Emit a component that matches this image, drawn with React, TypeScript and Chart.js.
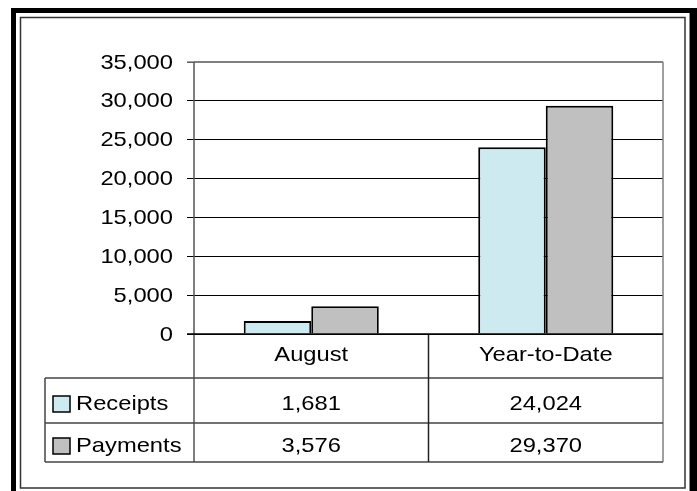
import React, { useEffect, useRef } from 'react';
import { Chart, registerables } from 'chart.js';

Chart.register(...registerables);

const categories = ['August', 'Year-to-Date'];
const seriesNames = ['Receipts', 'Payments'];
const receipts = [1681, 24024];
const payments = [3576, 29370];
const seriesColors = ['#CCEAF0', '#C0C0C0'];
const yMin = 0;
const yMax = 35000;
const yStep = 5000;

const FONT = '21px "Liberation Sans", Arial, sans-serif';
const SX = 1.13;

function fmt(v: number) {
  return v.toLocaleString('en-US');
}

function drawText(ctx: CanvasRenderingContext2D, text: string, x: number, y: number, align: CanvasTextAlign) {
  ctx.save();
  ctx.font = FONT;
  ctx.fillStyle = '#000';
  ctx.textAlign = align;
  ctx.textBaseline = 'alphabetic';
  ctx.translate(x, y);
  ctx.scale(SX, 1);
  ctx.fillText(text, 0, 0);
  ctx.restore();
}

function line(ctx: CanvasRenderingContext2D, x1: number, y1: number, x2: number, y2: number, color: string, w: number) {
  ctx.save();
  ctx.strokeStyle = color;
  ctx.lineWidth = w;
  ctx.beginPath();
  ctx.moveTo(x1, y1);
  ctx.lineTo(x2, y2);
  ctx.stroke();
  ctx.restore();
}

const framePlugin = {
  id: 'frameAndTable',
  beforeDraw(chart: any) {
    const ctx: CanvasRenderingContext2D = chart.ctx;
    const W = chart.width;
    const H = chart.height;
    ctx.save();
    ctx.fillStyle = '#fff';
    ctx.fillRect(0, 0, W, H);
    // outer thick black frame
    ctx.fillStyle = '#000';
    ctx.fillRect(11, 8, W - 11, 5);
    ctx.fillRect(11, 8, 5, H - 8);
    ctx.fillRect(690, 8, W - 690, H - 8);
    ctx.fillStyle = '#888';
    ctx.fillRect(689, 13, 1, H - 13);
    // inner thin frame
    ctx.strokeStyle = '#333';
    ctx.lineWidth = 1.5;
    ctx.strokeRect(20.5, 17.5, 664.5, 470.5);
    ctx.restore();
  },
  afterDraw(chart: any) {
    const ctx: CanvasRenderingContext2D = chart.ctx;
    const { left, right, top, bottom } = chart.chartArea;
    const xs = chart.scales.x;
    const ys = chart.scales.y;
    const mid = (xs.getPixelForValue(0) + xs.getPixelForValue(1)) / 2;
    const r1 = bottom + 44;
    const r2 = bottom + 89;
    const r3 = bottom + 128;
    const tLeft = 45;
    const tableColor = '#444';

    // y tick labels
    ys.ticks.forEach((t: any) => {
      const y = ys.getPixelForValue(t.value);
      drawText(ctx, fmt(t.value), 173, y + 6.5, 'right');
    });

    // plot border top / right
    line(ctx, left, top, right, top, '#808080', 2);
    line(ctx, left - 7, top, left, top, '#808080', 1.5);
    line(ctx, right, top, right, r3, '#808080', 1.5);

    // axis line extending through the table
    line(ctx, left, top, left, r3, '#555', 1.5);

    // table lines
    line(ctx, tLeft, r1, right, r1, tableColor, 1.5);
    line(ctx, tLeft, r2, right, r2, tableColor, 1.5);
    line(ctx, tLeft, r3, right, r3, tableColor, 1.5);
    line(ctx, tLeft, r1, tLeft, r3, tableColor, 1.5);
    line(ctx, mid, bottom, mid, r3, '#222', 1.5);
    // zero line redraw
    line(ctx, left - 7, bottom, right, bottom, '#000', 1.5);

    // category labels
    categories.forEach((c, i) => {
      drawText(ctx, c, xs.getPixelForValue(i), bottom + 27, 'center');
    });

    const rows = [receipts, payments];
    const baselines = [r1 + 32, r2 + 29];
    rows.forEach((vals, ri) => {
      const by = baselines[ri];
      ctx.save();
      ctx.fillStyle = seriesColors[ri];
      ctx.fillRect(53, by - 14, 17, 16);
      ctx.strokeStyle = '#000';
      ctx.lineWidth = 1.5;
      ctx.strokeRect(53, by - 14, 17, 16);
      ctx.restore();
      drawText(ctx, seriesNames[ri], 76, by, 'left');
      vals.forEach((v, ci) => {
        drawText(ctx, fmt(v), xs.getPixelForValue(ci), by, 'center');
      });
    });
  },
};

export default function App() {
  const ref = useRef<HTMLCanvasElement | null>(null);
  useEffect(() => {
    if (!ref.current) return;
    const chart = new Chart(ref.current, {
      type: 'bar',
      data: {
        labels: categories,
        datasets: [
          {
            label: seriesNames[0],
            data: receipts,
            backgroundColor: seriesColors[0],
            borderColor: '#000',
            borderWidth: 2,
          },
          {
            label: seriesNames[1],
            data: payments,
            backgroundColor: seriesColors[1],
            borderColor: '#000',
            borderWidth: 2,
          },
        ],
      },
      options: {
        responsive: false,
        animation: false,
        devicePixelRatio: 1,
        layout: { padding: { left: 187, right: 34, top: 62, bottom: 157 } },
        datasets: { bar: { categoryPercentage: 0.576, barPercentage: 1 } },
        plugins: {
          legend: { display: false },
          title: { display: false },
          tooltip: { enabled: false },
        },
        scales: {
          x: { display: false },
          y: {
            min: yMin,
            max: yMax,
            ticks: { stepSize: yStep, display: false },
            border: { display: false },
            grid: {
              color: '#000',
              lineWidth: 1,
              drawTicks: true,
              tickLength: 7,
            },
          },
        },
      },
      plugins: [framePlugin],
    });
    return () => chart.destroy();
  }, []);
  return (
    <div style={{ position: 'fixed', left: 0, top: 0, width: 697, height: 491 }}>
      <canvas ref={ref} width={697} height={491} style={{ display: 'block' }} />
    </div>
  );
}
